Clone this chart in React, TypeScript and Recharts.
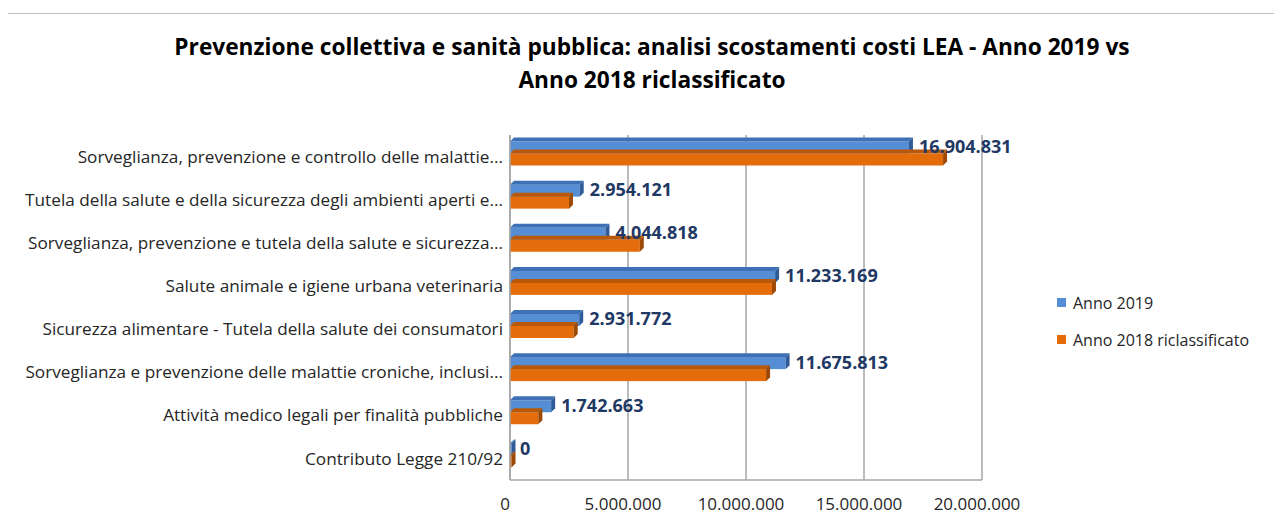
import { Bar, BarChart, CartesianGrid, LabelList, XAxis, YAxis } from "recharts";

const categories = [
  "Sorveglianza, prevenzione e controllo delle malattie...",
  "Tutela della salute e della sicurezza degli ambienti aperti e...",
  "Sorveglianza, prevenzione e tutela della salute e sicurezza...",
  "Salute animale e igiene urbana veterinaria",
  "Sicurezza alimentare - Tutela della salute dei consumatori",
  "Sorveglianza e prevenzione delle malattie croniche, inclusi...",
  "Attività medico legali per finalità pubbliche",
  "Contributo Legge 210/92",
];
const anno2019 = [16904831, 2954121, 4044818, 11233169, 2931772, 11675813, 1742663, 0];
const anno2018 = [18350000, 2500000, 5500000, 11100000, 2700000, 10850000, 1200000, 60000];
const xTicks = [0, 5000000, 10000000, 15000000, 20000000];

const series = [
  { key: "a2019", name: "Anno 2019", color: "#558ed5", side: "#2f5c99", top: "#3d70b4" },
  { key: "a2018", name: "Anno 2018 riclassificato", color: "#e46c0a", side: "#9c4a06", top: "#b85808" },
];

const data = categories.map((name, i) => ({
  name,
  a2019: anno2019[i],
  a2018: anno2018[i],
}));

const FONT = "'Open Sans', sans-serif";

// punti come separatore delle migliaia
const fmt = (v: number) => String(Math.round(v)).replace(/\B(?=(\d{3})+(?!\d))/g, ".");

// barra "3D" come in Excel: faccia, lato destro e bordo superiore
function make3d(front: string, side: string, top: string) {
  return (props: any) => {
    const { x, height, width } = props;
    const y = props.y - 3;
    const d = 4;
    const w = Math.max(width, 1.5);
    return (
      <g>
        <rect x={x} y={y} width={w} height={height} fill={front} />
        <polygon
          points={`${x},${y} ${x + d},${y - d} ${x + w + d},${y - d} ${x + w},${y}`}
          fill={top}
        />
        <polygon
          points={`${x + w},${y} ${x + w + d},${y - d} ${x + w + d},${y + height - d} ${x + w},${y + height}`}
          fill={side}
        />
      </g>
    );
  };
}

export default function App() {
  return (
    <div
      style={{
        position: "relative",
        width: 1282,
        height: 527,
        margin: -8,
        overflow: "hidden",
        background: "#fff",
        fontFamily: FONT,
      }}
    >
      <div
        style={{
          position: "absolute",
          left: 4,
          top: 13,
          width: 1300,
          height: 540,
          border: "1px solid #bfbfbf",
        }}
      />
      <div
        style={{
          position: "absolute",
          left: 0,
          top: 30,
          width: 1304,
          textAlign: "center",
          fontWeight: 700,
          fontSize: 22.7,
          lineHeight: "33px",
          color: "#000",
        }}
      >
        Prevenzione collettiva e sanità pubblica: analisi scostamenti costi LEA - Anno 2019 vs
        <br />
        Anno 2018 riclassificato
      </div>
      <div style={{ position: "absolute", left: 0, top: 0 }}>
        <BarChart
          layout="vertical"
          width={1282}
          height={527}
          data={data}
          margin={{ top: 135, right: 300, bottom: 17, left: 0 }}
          barCategoryGap={9.5}
          barGap={0}
        >
          <CartesianGrid vertical horizontal={false} stroke="#a6a6a6" strokeWidth={1.5} />
          <XAxis
            type="number"
            domain={[0, 20000000]}
            ticks={xTicks}
            tickFormatter={fmt}
            axisLine={{ stroke: "#a6a6a6", strokeWidth: 1.5 }}
            tickLine={false}
            tickMargin={12}
            tick={{ fill: "#262626", fontSize: 17, fontFamily: FONT, dx: -5 }}
          />
          <YAxis
            type="category"
            dataKey="name"
            width={510}
            axisLine={{ stroke: "#a6a6a6", strokeWidth: 1.5 }}
            tickLine={false}
            tickSize={0}
            tickMargin={7}
            interval={0}
            tick={{ fill: "#262626", fontSize: 17.2, fontFamily: FONT }}
          />
          {series.map((s) => (
            <Bar
              key={s.key}
              dataKey={s.key}
              name={s.name}
              fill={s.color}
              shape={make3d(s.color, s.side, s.top)}
              isAnimationActive={false}
            >
              {s.key === "a2019" && (
                <LabelList
                  dataKey="a2019"
                  position="right"
                  offset={10}
                  dy={-4}
                  formatter={(v: any) => fmt(Number(v))}
                  style={{ fill: "#1f3864", fontWeight: 700, fontSize: 18, fontFamily: FONT }}
                />
              )}
            </Bar>
          ))}
        </BarChart>
      </div>
      <div style={{ position: "absolute", left: 1057, top: 284, fontSize: 16, color: "#262626" }}>
        {series.map((s) => (
          <div key={s.key} style={{ display: "flex", alignItems: "center", height: 37 }}>
            <span style={{ width: 9, height: 9, background: s.color, marginRight: 7 }} />
            {s.name}
          </div>
        ))}
      </div>
    </div>
  );
}
